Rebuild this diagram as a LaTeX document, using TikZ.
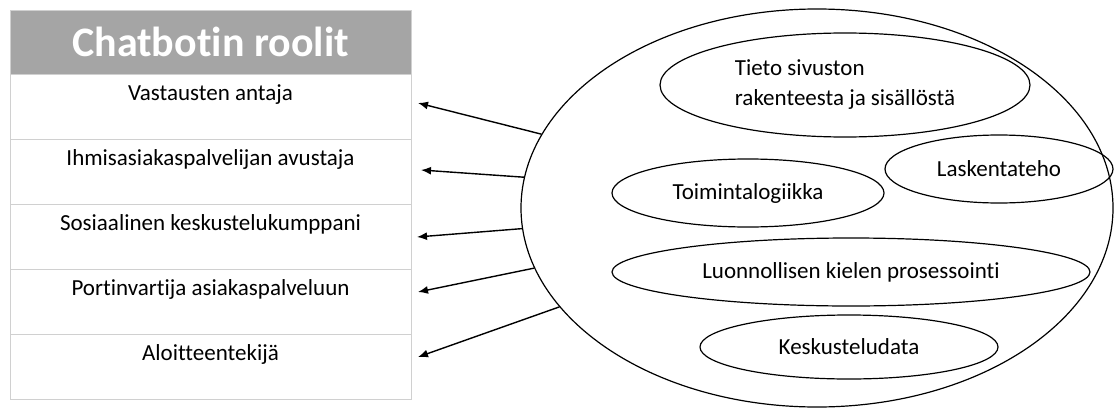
\documentclass[tikz,border=0pt]{standalone}
\usepackage{fontspec}
\setmainfont{Carlito}[RawFeature={-liga}]
\usepackage{tikz}
\usetikzlibrary{arrows.meta,shapes,positioning,calc}
\definecolor{headgray}{HTML}{A5A5A5}
\definecolor{gridgray}{HTML}{D0D0D0}

\begin{document}
\begin{tikzpicture}[
x=1pt, y=1pt, >={Latex[length=10pt,width=8pt]},
head-node/.style = {rectangle, draw=gridgray, fill=headgray, text=white, outer sep=0pt, inner sep=0pt,
  minimum width=401pt, minimum height=64pt, font=\fontsize{42}{46}\selectfont\bfseries},
role-node/.style = {rectangle, draw=gridgray, line width=1pt, outer sep=0pt, inner ysep=0pt,
  minimum width=401pt, text height=26pt, text depth=39pt, font=\fontsize{23}{28}\selectfont},
part-node/.style = {ellipse, draw=black, line width=1.2pt, inner sep=0pt, font=\fontsize{23}{30}\selectfont},
link/.style = {->, line width=1.4pt}
]
\useasboundingbox (0,0) rectangle (1115,408);

% table of roles
\node [head-node] (head) at (210.5,366) {Chatbotin roolit};
\node [role-node, below=0pt of head] (r1) {Vastausten antaja};
\node [role-node, below=0pt of r1] (r2) {Ihmisasiakaspalvelijan avustaja};
\node [role-node, below=0pt of r2] (r3) {Sosiaalinen keskustelukumppani};
\node [role-node, below=0pt of r3] (r4) {Portinvartija asiakaspalveluun};
\node [role-node, below=0pt of r4] (r5) {Aloitteentekijä};

% chatbot parts
\node [part-node, minimum width=592pt, minimum height=398pt] (bot) at (817,200) {};
\node [part-node, align=left, minimum width=370pt, minimum height=104pt] (site) at (845,323)
  {Tieto sivuston\\rakenteesta ja sisällöstä};
\node [part-node, minimum width=228pt, minimum height=68pt] (power) at (999,239) {Laskentateho};
\node [part-node, minimum width=272pt, minimum height=68pt] (logic) at (748,215) {Toimintalogiikka};
\node [part-node, minimum width=478pt, minimum height=68pt] (nlp) at (851,136) {Luonnollisen kielen prosessointi};
\node [part-node, minimum width=298pt, minimum height=64pt] (data) at (849,61) {Keskusteludata};

% arrow tips
\coordinate (t1) at (418,305);
\coordinate (t2) at (421,238);
\coordinate (t3) at (417,171);
\coordinate (t4) at (418,116);
\coordinate (t5) at (418,51);

% arrows
\draw[link] (bot.165) -- (t1);
\draw[link] (bot.174) -- (t2);
\draw[link] (bot.184) -- (t3);
\draw[link] (bot.192) -- (t4);
\draw[link] (bot.201) -- (t5);

\end{tikzpicture}
\end{document}
